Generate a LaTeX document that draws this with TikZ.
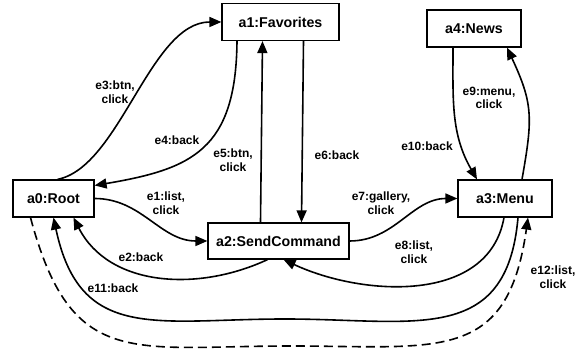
\documentclass[tikz,border=0pt]{standalone}
\usepackage{fontspec}
\setmainfont{Liberation Sans}
\usepackage{tikz}
\usetikzlibrary{arrows.meta,positioning}

\begin{document}
\begin{tikzpicture}[x=1pt,y=1pt]
			\tikzstyle{Activity}	= [rectangle, draw, line width=1.2pt, minimum height=37pt, inner sep=0pt, font=\fontsize{14.2}{16}\selectfont\bfseries]
			\tikzstyle{Edge}	= [line width=1.6pt, -{Triangle[length=12pt,width=10pt]}]
			\tikzstyle{Hidden}	= [dash pattern=on 9pt off 5pt]
			\tikzstyle{Label}	= [align=center, inner sep=0pt, font=\fontsize{12}{13.5}\selectfont\bfseries]

			\useasboundingbox (0,0) rectangle (582,350);

			\node (a0) at (53.5, 151.5) [Activity, minimum width=81pt] {a0:Root};
			\node (a1) at (280.5, 328) [Activity, minimum width=117pt] {a1:Favorites};
			\node (a2) at (278.5, 109) [Activity, minimum width=141pt, minimum height=36pt] {a2:SendCommand};
			\node (a3) at (505, 151.5) [Activity, minimum width=94pt] {a3:Menu};
			\node (a4) at (474, 321.5) [Activity, minimum width=94pt] {a4:News};

			\coordinate (e11m) at (285, 31);
			\coordinate (e12m) at (290, 4);

			\draw [Edge] ([xshift=4pt]a0.north) .. controls (120,183) and (150,328) .. (a1.west);
			\draw [Edge] ([xshift=-43.5pt]a1.south) .. controls (236,200) and (192,181) .. ([yshift=13pt]a0.east);
			\draw [Edge] ([xshift=-18pt]a2.north) -- ([xshift=-18pt]a1.south);
			\draw [Edge] ([xshift=23pt]a1.south) -- ([xshift=23pt]a2.north);
			\draw [Edge] ([xshift=17pt]a3.north) to [out=80, in=-65, looseness=1.2] ([xshift=33pt]a4.south);
			\draw [Edge] ([xshift=-21pt]a4.south) to [out=-90, in=120] ([xshift=-28pt]a3.north);
			\draw [Edge] (a0.east) to [out=0, in=180] (a2.west);
			\draw [Edge] (a2.east) to [out=0, in=180] (a3.west);
			\draw [Edge] ([xshift=-1pt]a3.south) to [out=-100, in=-25] ([xshift=5pt]a2.south);
			\draw [Edge] ([xshift=-11pt]a2.south) to [out=-155, in=-63] ([xshift=20pt]a0.south);
			\draw [Edge] ([xshift=13pt]a3.south) to [out=-95, in=0, looseness=1.3] (e11m) to [out=180, in=-78, looseness=1.3] (a0.south);
			\draw [Edge, Hidden] ([xshift=-23pt]a0.south) to [out=-75, in=180, looseness=1.4] (e12m) to [out=0, in=-98, looseness=1.4] ([xshift=23pt]a3.south);

			\node (l1) at (166, 147) [Label] {e1:list,\\click};
			\node (l2) at (141, 93) [Label] {e2:back};
			\node (l3) at (115, 258) [Label] {e3:btn,\\click};
			\node (l4) at (177, 210) [Label] {e4:back};
			\node (l5) at (233, 190) [Label] {e5:btn,\\click};
			\node (l6) at (337, 195) [Label] {e6:back};
			\node (l7) at (381, 147) [Label] {e7:gallery,\\click};
			\node (l8) at (414, 98) [Label] {e8:list,\\click};
			\node (l9) at (489, 252) [Label] {e9:menu,\\click};
			\node (l10) at (427, 204) [Label] {e10:back};
			\node (l11) at (113, 62) [Label] {e11:back};
			\node (l12) at (553, 73) [Label] {e12:list,\\click};
		\end{tikzpicture}
\end{document}
